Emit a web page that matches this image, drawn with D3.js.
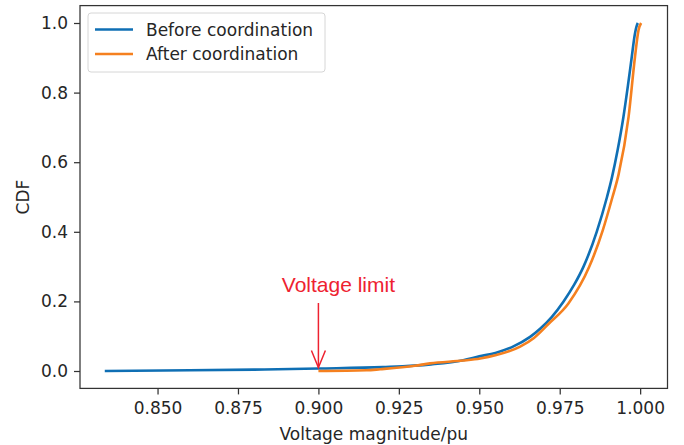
<!DOCTYPE html>
<html lang="en">
<head>
    <meta charset="UTF-8">
    <title>Voltage CDF</title>
    <script src="https://d3js.org/d3.v7.min.js"></script>
    <style>
        body { margin: 0; background: white; }
        text { font-family: 'DejaVu Sans', sans-serif; fill: #262626; }
        .tick text { font-size: 17px; }
        .note { font-family: 'Liberation Sans', Arial, sans-serif; font-size: 21px; fill: #ee2230; }
    </style>
</head>
<body>
<script>

    const width = 684;
    const height = 445;

    // Before coordination: [voltage, cdf]
    const beforeV = [0.8336, 0.86, 0.88, 0.90, 0.92, 0.935, 0.945, 0.950, 0.955, 0.960, 0.9658, 0.969, 0.9725, 0.9762, 0.9795, 0.9824, 0.9865, 0.9897, 0.9912, 0.993, 0.9948, 0.9962, 0.9974, 0.9983, 0.999, 0.9993];
    const beforeP = [0.000, 0.002, 0.004, 0.007, 0.011, 0.019, 0.031, 0.042, 0.052, 0.068, 0.098, 0.122, 0.155, 0.200, 0.248, 0.300, 0.400, 0.500, 0.555, 0.635, 0.730, 0.820, 0.903, 0.965, 0.994, 1.000];

    // After coordination
    const afterV = [0.900, 0.915, 0.9192, 0.930, 0.9347, 0.945, 0.9503, 0.955, 0.9627, 0.967, 0.9715, 0.9777, 0.9842, 0.9884, 0.9914, 0.9933, 0.9964, 0.9984, 0.9995, 1.0003];
    const afterP = [0.000, 0.002, 0.005, 0.015, 0.022, 0.030, 0.036, 0.045, 0.070, 0.095, 0.135, 0.194, 0.300, 0.405, 0.500, 0.565, 0.730, 0.903, 0.980, 1.000];

    const xTicks = [0.850, 0.875, 0.900, 0.925, 0.950, 0.975, 1.000];
    const yTicks = [0.0, 0.2, 0.4, 0.6, 0.8, 1.0];
    const seriesNames = ['Before coordination', 'After coordination'];
    const colors = ['#0f6fb4', '#f5801f'];
    const limit = 0.9;

    const x = d3.scaleLinear().domain([0.8259, 1.0085]).range([80, 667.5]);
    const y = d3.scaleLinear().domain([-0.05, 1.05]).range([388.4, 5.6]);

    const svg = d3.select("body").append("svg").attr("width", width).attr("height", height);

    const line = d3.line().x(d => x(d[0])).y(d => y(d[1])).curve(d3.curveMonotoneX);

    const series = [
        d3.zip(beforeV, beforeP),
        d3.zip(afterV, afterP)
    ];

    svg.selectAll("path.series")
        .data(series)
        .enter().append("path").attr("class", "series")
        .attr("d", line)
        .attr("fill", "none")
        .attr("stroke", (d, i) => colors[i])
        .attr("stroke-width", 2.6)
        .attr("stroke-linejoin", "round");

    // frame
    svg.append("rect")
        .attr("x", 80).attr("y", 5.6)
        .attr("width", 667.5 - 80).attr("height", 388.4 - 5.6)
        .attr("fill", "none").attr("stroke", "#333").attr("stroke-width", 1.25);

    const xAxis = svg.append("g")
        .attr("transform", "translate(0,388.4)")
        .call(d3.axisBottom(x).tickValues(xTicks).tickFormat(d3.format(".3f")).tickSize(6).tickPadding(8));
    const yAxis = svg.append("g")
        .attr("transform", "translate(80,0)")
        .call(d3.axisLeft(y).tickValues(yTicks).tickFormat(d3.format(".1f")).tickSize(6).tickPadding(6));

    [xAxis, yAxis].forEach(g => {
        g.select(".domain").remove();
        g.selectAll(".tick line").attr("stroke", "#333").attr("stroke-width", 1.25);
        g.selectAll(".tick text").attr("fill", "#262626");
    });

    svg.append("text")
        .attr("x", (80 + 667.5) / 2).attr("y", 440)
        .attr("text-anchor", "middle")
        .style("font-size", "17px")
        .text("Voltage magnitude/pu");

    svg.append("text")
        .attr("transform", "translate(29," + ((5.6 + 388.4) / 2) + ") rotate(-90)")
        .attr("text-anchor", "middle")
        .style("font-size", "17px")
        .text("CDF");

    // annotation
    const ax = x(limit);
    const tipY = y(0.01);
    svg.append("text").attr("class", "note")
        .attr("x", ax + 20).attr("y", 292)
        .attr("text-anchor", "middle")
        .text("Voltage limit");
    svg.append("line")
        .attr("x1", ax).attr("x2", ax)
        .attr("y1", 303).attr("y2", tipY)
        .attr("stroke", "#ee2230").attr("stroke-width", 1.5);
    svg.append("path")
        .attr("d", `M${ax - 7},${tipY - 17}L${ax},${tipY}L${ax + 7},${tipY - 17}`)
        .attr("fill", "none").attr("stroke", "#ee2230").attr("stroke-width", 1.5);

    // legend
    const legend = svg.append("g").attr("transform", "translate(88,13)");
    legend.append("rect")
        .attr("width", 237).attr("height", 59).attr("rx", 3)
        .attr("fill", "white").attr("fill-opacity", 0.8)
        .attr("stroke", "#d6d6d6").attr("stroke-width", 1);
    seriesNames.forEach((name, i) => {
        legend.append("line")
            .attr("x1", 7).attr("x2", 45)
            .attr("y1", 16.5 + i * 24.5).attr("y2", 16.5 + i * 24.5)
            .attr("stroke", colors[i]).attr("stroke-width", 2.6);
        legend.append("text")
            .attr("x", 58).attr("y", 22.5 + i * 24.5)
            .style("font-size", "17px")
            .text(name);
    });

</script>
</body>
</html>
